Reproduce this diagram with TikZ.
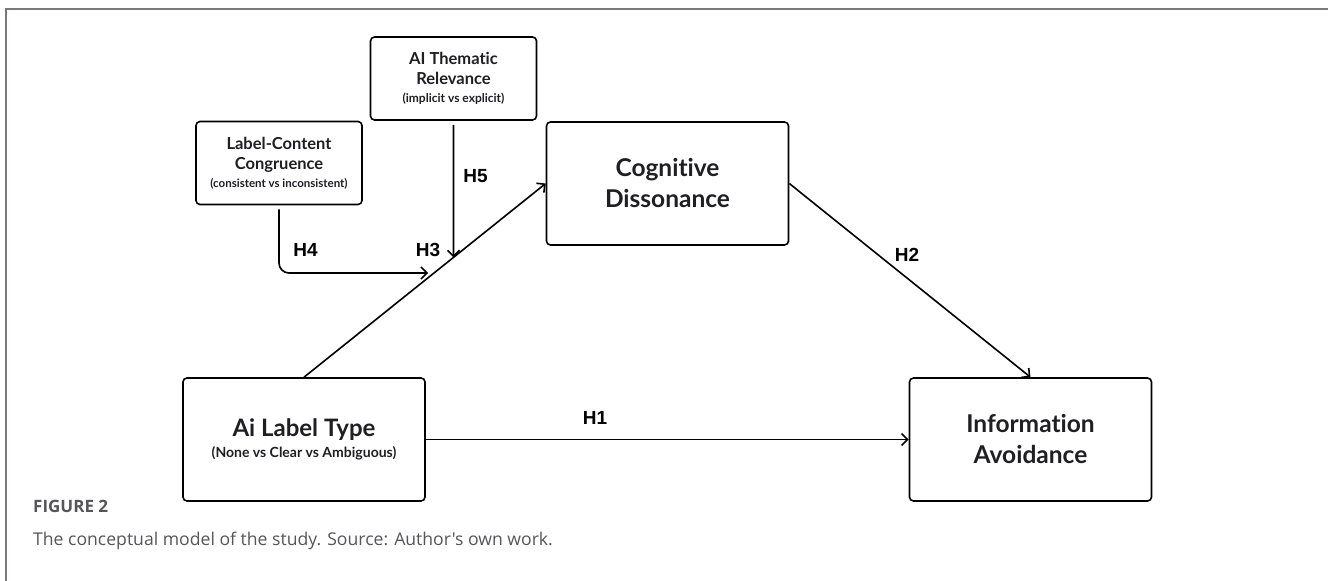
\documentclass[tikz,border=0pt]{standalone}
\usepackage{fontspec}
\setmainfont{Lato}[Ligatures=NoCommon]
\newfontfamily\hypfont{Liberation Sans}
\newfontfamily\capfont{Open Sans}
\usetikzlibrary{arrows.meta, positioning}

\begin{document}
\begin{tikzpicture}[x=1pt, y=1pt,
  bigbox/.style={rectangle, draw, line width=1.6pt, rounded corners=4pt, minimum width=242pt, minimum height=123pt, align=center, inner sep=0pt, text=inkcolor},
  smallbox/.style={rectangle, draw, line width=1.6pt, rounded corners=4pt, minimum width=166pt, minimum height=83pt, align=center, inner sep=0pt, text=inkcolor},
  hyplabel/.style={inner sep=0pt, font=\hypfont\bfseries\fontsize{19}{19}\selectfont},
  link/.style={-{Straight Barb[length=6pt, width=12pt, line width=1.6pt]}, line width=1.6pt},
  captext/.style={anchor=base west, inner sep=0pt, text=captiongray}
]
  % Colors
  \definecolor{framegray}{RGB}{120,120,128}   % Frame lines
  \definecolor{captiongray}{RGB}{85,85,90}    % Caption text
  \definecolor{inkcolor}{RGB}{30,30,35}       % Box text

  \useasboundingbox (0,0) rectangle (1328,581);

  % Frame
  \draw[framegray, line width=2pt] (6,0) -- (6,572) -- (1328,572);

  % Main boxes
  \node[bigbox, font=\bfseries\fontsize{14}{21}\selectfont] (labeltype) at (304,141.5) {{\fontsize{24}{21}\selectfont Ai Label Type}\\(None vs Clear vs Ambiguous)};
  \node[bigbox, font=\bfseries\fontsize{24.5}{31}\selectfont] (dissonance) at (667.5,397.5) {Cognitive\\Dissonance};
  \node[bigbox, font=\bfseries\fontsize{24.5}{31}\selectfont] (avoidance) at (1030.5,141.5) {Information\\Avoidance};

  % Moderator boxes
  \node[smallbox, font=\bfseries\fontsize{16.5}{20}\selectfont] (relevance) at (453.5,502.5) {AI Thematic\\Relevance\\[-2pt]{\fontsize{12}{18}\selectfont (implicit vs explicit)}};
  \node[smallbox, font=\bfseries\fontsize{16.5}{20}\selectfont] (congruence) at (279,418) {Label-Content\\Congruence\\[-2pt]{\fontsize{11.5}{18}\selectfont (consistent vs inconsistent)}};

  % Paths
  \draw[link] (labeltype.north) -- (dissonance.west);
  \draw[link] (labeltype.east) -- (avoidance.west);
  \draw[link] (dissonance.east) -- (avoidance.north);

  \coordinate (h5end) at (intersection of labeltype.north--dissonance.west and relevance.south--relevance.center);
  \draw[link, shorten <=4pt] (relevance.south) -- (h5end);

  \coordinate (h4turn) at (279,308);
  \coordinate (h4aux) at (500,308);
  \coordinate (h4end) at (intersection of labeltype.north--dissonance.west and h4turn--h4aux);
  \draw[link, rounded corners=10pt, shorten <=4pt, shorten >=6pt] (congruence.south) -- (h4turn) -- (h4end);

  % Hypothesis labels
  \node[hyplabel] (h1) at (595,163) {H1};
  \node[hyplabel] (h2) at (907,326) {H2};
  \node[hyplabel] (h3) at (428,331) {H3};
  \node[hyplabel] (h4) at (305.5,331) {H4};
  \node[hyplabel] (h5) at (475.5,404.5) {H5};

  % Caption
  \node[captext, font=\capfont\bfseries\fontsize{17}{17}\selectfont] (figtag) at (33,68) {FIGURE 2};
  \node[captext, font=\capfont\fontsize{17.6}{17.6}\selectfont] (figcap) at (33,35) {The conceptual model of the study. Source: Author's own work.};
\end{tikzpicture}
\end{document}
